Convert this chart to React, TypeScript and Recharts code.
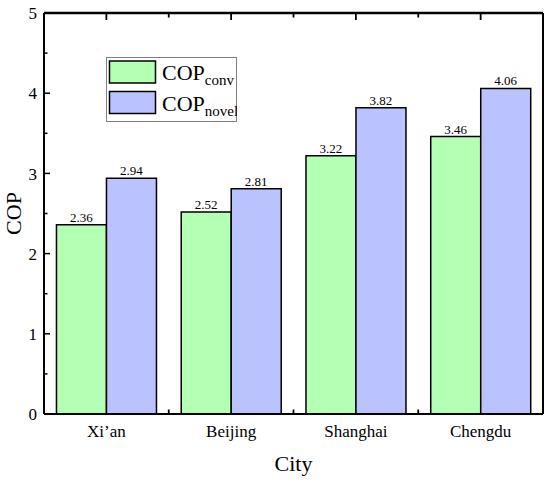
import { Bar, BarChart, LabelList, ReferenceLine, XAxis, YAxis } from "recharts";

const cities = ["Xi’an", "Beijing", "Shanghai", "Chengdu"];
const copConv = [2.36, 2.52, 3.22, 3.46];
const copNovel = [2.94, 2.81, 3.82, 4.06];
const yTicks = [0, 0.5, 1, 1.5, 2, 2.5, 3, 3.5, 4, 4.5, 5];

const data = cities.map((city, i) => ({ city, conv: copConv[i], novel: copNovel[i] }));

const FONT = "Liberation Serif";
const GREEN = "#B3FFB3";
const BLUE = "#BBC3FF";
const TOP = 13;
const HALF_BAND = 499 / 8;

function LeftTick({ x, y, payload }: any) {
  const major = Number.isInteger(payload.value);
  return (
    <g>
      <line x1={x} x2={x + (major ? 6 : 3.5)} y1={y} y2={y} stroke="#000" strokeWidth={1.5} />
      {major && (
        <text x={x - 7} y={y} dy="0.36em" textAnchor="end" style={{ fontSize: 17, fontFamily: FONT }} fill="#000">
          {payload.value}
        </text>
      )}
    </g>
  );
}

function RightTick({ x, y, payload }: any) {
  const major = Number.isInteger(payload.value);
  return <line x1={x} x2={x - (major ? 6 : 3.5)} y1={y} y2={y} stroke="#000" strokeWidth={1.5} />;
}

// bottom ticks also mirror the frame ticks onto the top edge
function BottomTick({ x, y, payload, index }: any) {
  const off = payload.offset || HALF_BAND;
  const last = index >= cities.length - 1;
  return (
    <g>
      <line x1={x} x2={x} y1={TOP} y2={TOP + 7} stroke="#000" strokeWidth={1.8} />
      {!last && (
        <>
          <line x1={x + off} x2={x + off} y1={y} y2={y - 4.5} stroke="#000" strokeWidth={1.8} />
          <line x1={x + off} x2={x + off} y1={TOP} y2={TOP + 4.5} stroke="#000" strokeWidth={1.8} />
        </>
      )}
      <text x={x} y={y + 23} textAnchor="middle" style={{ fontSize: 17, fontFamily: FONT }} fill="#000">
        {payload.value}
      </text>
    </g>
  );
}

function renderYLabel({ viewBox }: any) {
  const cy = viewBox.y + viewBox.height / 2;
  return (
    <text
      x={21}
      y={cy}
      transform={`rotate(-90 21 ${cy})`}
      textAnchor="middle"
      style={{ fontSize: 22, fontFamily: FONT }}
      fill="#000"
    >
      COP
    </text>
  );
}

function renderXLabel({ viewBox }: any) {
  return (
    <text
      x={viewBox.x + viewBox.width / 2}
      y={471}
      textAnchor="middle"
      style={{ fontSize: 22, fontFamily: FONT }}
      fill="#000"
    >
      City
    </text>
  );
}

function LegendBox() {
  const rows = [
    { fill: GREEN, sub: "conv" },
    { fill: BLUE, sub: "novel" },
  ];
  return (
    <svg
      width={131}
      height={65}
      style={{ position: "absolute", left: 106, top: 57, display: "block" }}
    >
      <rect x={0.5} y={0.5} width={130} height={64} fill="#fff" stroke="#808080" strokeWidth={1} />
      {rows.map((r, i) => (
        <g key={r.sub}>
          <rect x={3.5} y={4 + i * 30.5} width={46} height={22} fill={r.fill} stroke="#000" strokeWidth={1.5} />
          <text x={56} y={23 + i * 31} style={{ fontSize: 22, fontFamily: FONT }} fill="#000">
            COP
            <tspan style={{ fontSize: 15 }} dy={5}>
              {r.sub}
            </tspan>
          </text>
        </g>
      ))}
    </svg>
  );
}

const valueStyle = { fontSize: 13, fontFamily: FONT };

export default function App() {
  return (
    <div style={{ position: "absolute", left: 0, top: 0, width: 550, height: 480, background: "#fff" }}>
      <BarChart
        width={550}
        height={480}
        data={data}
        margin={{ top: TOP, right: 0, bottom: 0, left: 0 }}
        barCategoryGap="10%"
        barGap={0}
      >
        <XAxis
          xAxisId="b"
          dataKey="city"
          height={66}
          interval={0}
          tickSize={0}
          tickMargin={0}
          tickLine={false}
          tick={<BottomTick />}
          axisLine={{ stroke: "#000", strokeWidth: 2 }}
          label={{ content: renderXLabel }}
        />
        <YAxis
          yAxisId="l"
          width={44}
          domain={[0, 5]}
          ticks={yTicks}
          interval={0}
          tickSize={0}
          tickMargin={0}
          tickLine={false}
          tick={<LeftTick />}
          axisLine={{ stroke: "#000", strokeWidth: 2 }}
          label={{ content: renderYLabel }}
        />
        <YAxis
          yAxisId="r"
          orientation="right"
          width={7}
          domain={[0, 5]}
          ticks={yTicks}
          interval={0}
          tickSize={0}
          tickMargin={0}
          tickLine={false}
          tick={<RightTick />}
          axisLine={{ stroke: "#000", strokeWidth: 2 }}
        />
        <ReferenceLine xAxisId="b" yAxisId="l" y={5} stroke="#000" strokeWidth={2.5} />
        <Bar xAxisId="b" yAxisId="l" dataKey="conv" name="COPconv" fill={GREEN} stroke="#000" strokeWidth={1.5} isAnimationActive={false}>
          <LabelList
            dataKey="conv"
            position="top"
            offset={3}
            style={valueStyle}
            fill="#000"
            formatter={(v: any) => Number(v).toFixed(2)}
          />
        </Bar>
        <Bar xAxisId="b" yAxisId="l" dataKey="novel" name="COPnovel" fill={BLUE} stroke="#000" strokeWidth={1.5} isAnimationActive={false}>
          <LabelList
            dataKey="novel"
            position="top"
            offset={3}
            style={valueStyle}
            fill="#000"
            formatter={(v: any) => Number(v).toFixed(2)}
          />
        </Bar>
      </BarChart>
      <LegendBox />
    </div>
  );
}
